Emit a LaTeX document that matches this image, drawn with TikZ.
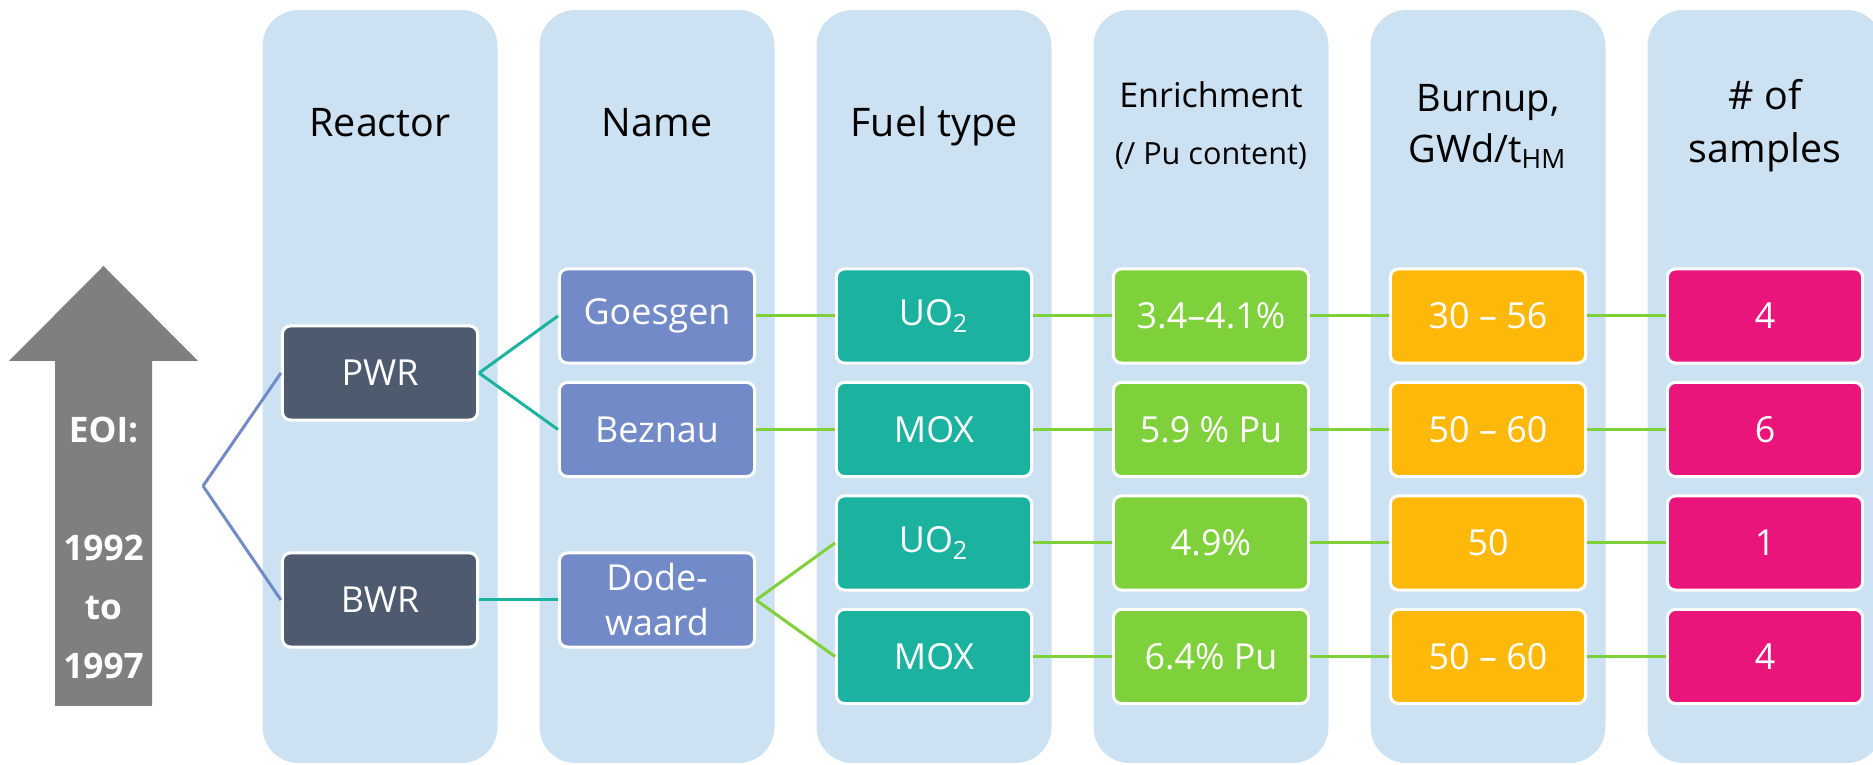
\documentclass[tikz,border=0pt]{standalone}
\usepackage{fontspec}
\setmainfont{Open Sans}
\usepackage{tikz}

\definecolor{panelblue}{RGB}{204,226,242}
\definecolor{reactorgray}{RGB}{78,91,111}
\definecolor{nameblue}{RGB}{114,138,199}
\definecolor{fuelteal}{RGB}{27,179,159}
\definecolor{enrgreen}{RGB}{127,209,59}
\definecolor{burnamber}{RGB}{254,184,10}
\definecolor{samppink}{RGB}{234,21,122}
\definecolor{eoigray}{RGB}{127,127,127}

\newcommand{\drawpanel}[1]{
    % one light blue column, centred at x = #1
    \fill[panelblue,rounded corners=0.36cm] ({#1-117.5},10) rectangle ({#1+117.5},763);
}

\tikzset{
    box/.style={rectangle,rounded corners=0.08cm,draw=white,line width=0.03cm,
        minimum width=1.95cm,minimum height=0.94cm,inner sep=0pt,align=center,
        text=white,font=\fontsize{10.2}{12.8}\selectfont},
    head/.style={anchor=base,text=black,font=\fontsize{11.2}{13}\selectfont},
    link/.style={line width=0.03cm},
}

\begin{document}
\begin{tikzpicture}[x=0.01cm,y=-0.01cm]
    \useasboundingbox (0,0) rectangle (1873,765);

    % columns
    \drawpanel{380}
    \drawpanel{657}
    \drawpanel{934}
    \drawpanel{1211}
    \drawpanel{1488}
    \drawpanel{1765}

    % headers
    \node[head] (hreactor) at (380,137) {Reactor};
    \node[head] (hname) at (657,137) {Name};
    \node[head] (hfuel) at (934,137) {Fuel type};
    \node[head,font=\fontsize{9.7}{12}\selectfont] (henr) at (1211,108) {Enrichment};
    \node[head,font=\fontsize{8.7}{11}\selectfont] (henrpu) at (1211,165) {(/ Pu content)};
    \node[head,font=\fontsize{10.8}{13}\selectfont] (hburn) at (1488,112) {Burnup,};
    \node[head,font=\fontsize{10.8}{13}\selectfont] (hburnunit) at (1488,163) {GWd/t\textsubscript{HM}};
    \node[head] (hsamp) at (1765,110) {\# of};
    \node[head] (hsampb) at (1765,163) {samples};

    % time arrow
    \fill[eoigray] (55,706) -- (55,361) -- (9,361) -- (103.5,266) -- (198,361) -- (152,361) -- (152,706) -- cycle;
    \node[text=white,font=\bfseries\fontsize{10}{16.8}\selectfont,align=center] (eoi) at (103.5,548) {EOI:\\[16.8pt]1992\\to\\1997};
    \coordinate (fork) at (203,486);

    % reactors
    \node[box,fill=reactorgray] (pwr) at (380,373) {PWR};
    \node[box,fill=reactorgray] (bwr) at (380,600) {BWR};

    % names
    \node[box,fill=nameblue] (goesgen) at (657,316) {Goesgen};
    \node[box,fill=nameblue] (beznau) at (657,429.5) {Beznau};
    \node[box,fill=nameblue] (dodewaard) at (657,600) {Dode-\\waard};

    % first row
    \node[box,fill=fuelteal] (fuela) at (934,316) {UO\textsubscript{2}};
    \node[box,fill=enrgreen] (enra) at (1211,316) {3.4--4.1\%};
    \node[box,fill=burnamber] (burna) at (1488,316) {30 -- 56};
    \node[box,fill=samppink] (sampa) at (1765,316) {4};

    % second row
    \node[box,fill=fuelteal] (fuelb) at (934,429.5) {MOX};
    \node[box,fill=enrgreen] (enrb) at (1211,429.5) {5.9 \% Pu};
    \node[box,fill=burnamber] (burnb) at (1488,429.5) {50 -- 60};
    \node[box,fill=samppink] (sampb) at (1765,429.5) {6};

    % third row
    \node[box,fill=fuelteal] (fuelc) at (934,543) {UO\textsubscript{2}};
    \node[box,fill=enrgreen] (enrc) at (1211,543) {4.9\%};
    \node[box,fill=burnamber] (burnc) at (1488,543) {50};
    \node[box,fill=samppink] (sampc) at (1765,543) {1};

    % fourth row
    \node[box,fill=fuelteal] (fueld) at (934,656.5) {MOX};
    \node[box,fill=enrgreen] (enrd) at (1211,656.5) {6.4\% Pu};
    \node[box,fill=burnamber] (burnd) at (1488,656.5) {50 -- 60};
    \node[box,fill=samppink] (sampd) at (1765,656.5) {4};

    % connectors
    \draw[link,nameblue] (fork) -- (pwr.west);
    \draw[link,nameblue] (fork) -- (bwr.west);
    \draw[link,fuelteal] (pwr.east) -- (goesgen.west);
    \draw[link,fuelteal] (pwr.east) -- (beznau.west);
    \draw[link,fuelteal] (bwr.east) -- (dodewaard.west);
    \draw[link,enrgreen] (goesgen.east) -- (fuela.west);
    \draw[link,enrgreen] (beznau.east) -- (fuelb.west);
    \draw[link,enrgreen] (dodewaard.east) -- (fuelc.west);
    \draw[link,enrgreen] (dodewaard.east) -- (fueld.west);

    \draw[link,enrgreen] (fuela.east) -- (enra.west);
    \draw[link,enrgreen] (enra.east) -- (burna.west);
    \draw[link,enrgreen] (burna.east) -- (sampa.west);
    \draw[link,enrgreen] (fuelb.east) -- (enrb.west);
    \draw[link,enrgreen] (enrb.east) -- (burnb.west);
    \draw[link,enrgreen] (burnb.east) -- (sampb.west);
    \draw[link,enrgreen] (fuelc.east) -- (enrc.west);
    \draw[link,enrgreen] (enrc.east) -- (burnc.west);
    \draw[link,enrgreen] (burnc.east) -- (sampc.west);
    \draw[link,enrgreen] (fueld.east) -- (enrd.west);
    \draw[link,enrgreen] (enrd.east) -- (burnd.west);
    \draw[link,enrgreen] (burnd.east) -- (sampd.west);

\end{tikzpicture}
\end{document}
